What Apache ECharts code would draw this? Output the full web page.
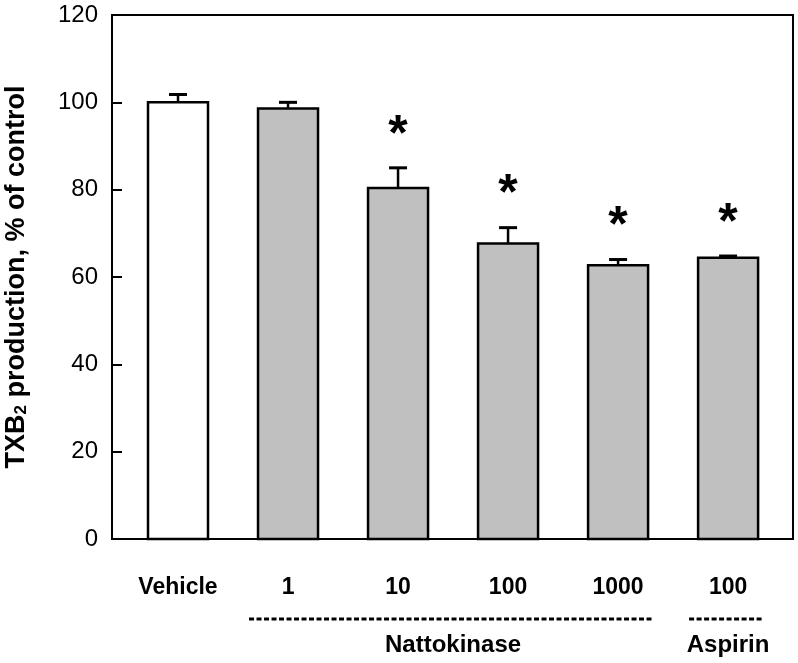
<!DOCTYPE html>
<html>
<head>
<meta charset="utf-8">
<script src="https://cdn.jsdelivr.net/npm/echarts@6/dist/echarts.min.js"></script>
<style>
html,body{margin:0;padding:0;background:#fff;}
#chart{width:798px;height:663px;}
</style>
</head>
<body>
<div id="chart"></div>
<script>
// ---- data ----
const categories = ['Vehicle', '1', '10', '100', '1000', '100'];
const values = [100, 98.6, 80.4, 67.7, 62.7, 64.4];
const errors = [1.8, 1.4, 4.6, 3.6, 1.3, 0.4];
const significant = [false, false, true, true, true, true];
const isControl = [true, false, false, false, false, false];
const groupNames = ['Nattokinase', 'Aspirin'];
const groupStart = [1, 5];
const groupEnd = [4, 5];
const yTicks = [0, 20, 40, 60, 80, 100, 120];

const FONT = 'Liberation Sans, Arial, sans-serif';

const barData = values.map((v, i) => [i, v, errors[i], significant[i] ? 1 : 0, isControl[i] ? 1 : 0]);
const groupData = groupNames.map((n, i) => [groupStart[i], groupEnd[i]]);

const chart = echarts.init(document.getElementById('chart'), null, {renderer: 'canvas'});

const option = {
  animation: false,
  backgroundColor: '#fff',
  grid: {
    left: 112, right: 5, top: 15, bottom: 124,
    containLabel: false, outerBoundsMode: 'none',
    show: true, borderColor: '#000', borderWidth: 2, backgroundColor: 'transparent'
  },
  xAxis: {
    type: 'value', min: -0.6, max: 5.59,
    axisLine: {show: false, onZero: false}, axisTick: {show: false},
    axisLabel: {show: false}, splitLine: {show: false}
  },
  yAxis: {
    type: 'value', min: yTicks[0], max: yTicks[yTicks.length - 1], interval: 20,
    axisLine: {show: true, onZero: false, lineStyle: {color: '#000', width: 2}},
    axisTick: {show: true, inside: true, length: 10, lineStyle: {color: '#000', width: 2}},
    axisLabel: {color: '#000', fontSize: 24, fontFamily: FONT, margin: 14},
    splitLine: {show: false},
    name: '{a|TXB}{s|2}{a| production, % of control}',
    nameLocation: 'middle',
    nameRotate: 90,
    nameGap: 82,
    nameTextStyle: {
      color: '#000', fontFamily: FONT, fontWeight: 'bold', fontSize: 27,
      rich: {
        a: {fontSize: 27, fontWeight: 'bold', fontFamily: FONT, color: '#000', lineHeight: 32, verticalAlign: 'bottom'},
        s: {fontSize: 17, fontWeight: 'bold', fontFamily: FONT, color: '#000', lineHeight: 14, verticalAlign: 'bottom'}
      }
    }
  },
  series: [
    {
      type: 'custom',
      clip: false,
      silent: true,
      data: barData,
      encode: {x: 0, y: 1},
      renderItem: function (params, api) {
        const i = api.value(0), v = api.value(1), e = api.value(2);
        const sig = api.value(3), ctrl = api.value(4);
        const base = api.coord([i, 0]);
        const top = api.coord([i, v]);
        const cap = api.coord([i, v + e]);
        const halfW = 30;
        const children = [
          {
            type: 'line',
            shape: {x1: top[0], y1: top[1], x2: cap[0], y2: cap[1]},
            style: {stroke: '#000', lineWidth: 2.5}
          },
          {
            type: 'line',
            shape: {x1: cap[0] - 9, y1: cap[1], x2: cap[0] + 9, y2: cap[1]},
            style: {stroke: '#000', lineWidth: 3}
          },
          {
            type: 'rect',
            shape: {x: top[0] - halfW, y: top[1], width: halfW * 2, height: base[1] - top[1]},
            style: {fill: ctrl ? '#ffffff' : '#c0c0c0', stroke: '#000', lineWidth: 2.5}
          },
          {
            type: 'text',
            style: {
              text: categories[params.dataIndex], x: base[0], y: base[1] + 49,
              align: 'center', verticalAlign: 'middle',
              font: 'bold 23px ' + FONT, fill: '#000'
            }
          }
        ];
        if (sig) {
          children.push({
            type: 'text',
            style: {
              text: '*', x: cap[0], y: cap[1] - 32,
              align: 'center', verticalAlign: 'middle',
              font: 'bold 50px ' + FONT, fill: '#000'
            }
          });
        }
        return {type: 'group', children: children};
      }
    },
    {
      type: 'custom',
      clip: false,
      silent: true,
      data: groupData,
      encode: {x: 0},
      renderItem: function (params, api) {
        const s = api.value(0), t = api.value(1);
        const p1 = api.coord([s, 0]);
        const p2 = api.coord([t, 0]);
        return {
          type: 'group',
          children: [
            {
              type: 'line',
              shape: {x1: p1[0] - 39, y1: p1[1] + 80, x2: p2[0] + 35, y2: p1[1] + 80},
              style: {stroke: '#000', lineWidth: 3, lineDash: [5, 2.5]}
            },
            {
              type: 'text',
              style: {
                text: groupNames[params.dataIndex], x: (p1[0] + p2[0]) / 2, y: p1[1] + 106,
                align: 'center', verticalAlign: 'middle',
                font: 'bold 24px ' + FONT, fill: '#000'
              }
            }
          ]
        };
      }
    }
  ]
};
chart.setOption(option);
</script>
</body>
</html>
